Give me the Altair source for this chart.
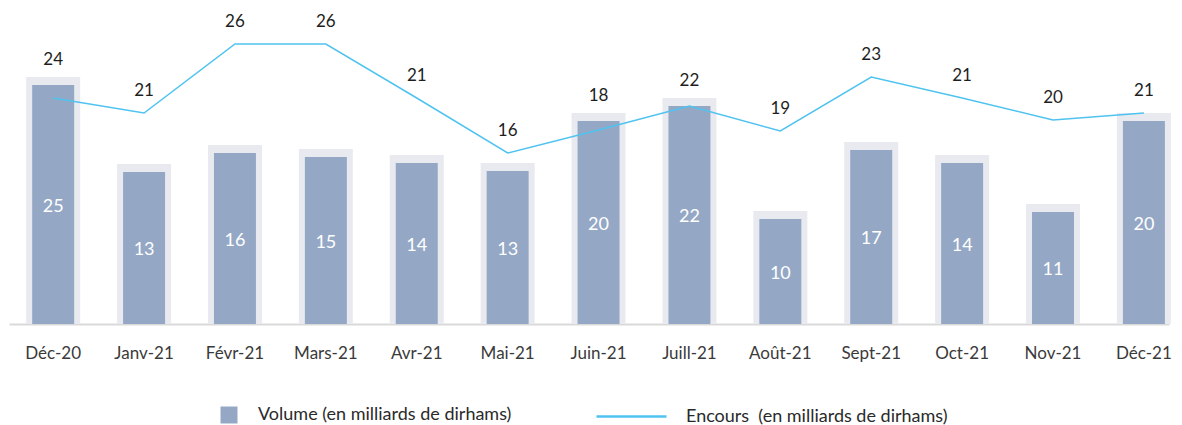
import altair as alt
import pandas as pd

months = ["Déc-20", "Janv-21", "Févr-21", "Mars-21", "Avr-21", "Mai-21", "Juin-21",
          "Juill-21", "Août-21", "Sept-21", "Oct-21", "Nov-21", "Déc-21"]
volume = [23.9, 15.2, 17.1, 16.7, 16.1, 15.3, 20.3, 21.8, 10.5, 17.4, 16.1, 11.2, 20.3]
volume_labels = ["25", "13", "16", "15", "14", "13", "20", "22", "10", "17", "14", "11", "20"]
encours = [22.6, 21.1, 28.0, 28.0, 22.6, 17.1, 19.4, 21.8, 19.3, 24.7, 22.6, 20.4, 21.1]
encours_labels = ["24", "21", "26", "26", "21", "16", "18", "22", "19", "23", "21", "20", "21"]

VOL_NAME = "Volume (en milliards de dirhams)"
ENC_NAME = "Encours\u00a0 (en milliards de dirhams)"

df = pd.DataFrame({
    "month": months,
    "volume": volume,
    "volume_label": volume_labels,
    "encours": encours,
    "encours_label": encours_labels,
})

FONT = "Lato"
yscale = alt.Scale(domain=[0, 30], nice=False, zero=True)

base = alt.Chart(df).transform_calculate(
    shadow_top="datum.volume + 0.8",
    vol_mid="datum.volume / 2",
    label_y="max(datum.encours + 2.2, datum.volume + 2.5)",
    vol_series=f"'{VOL_NAME}'",
    enc_series=f"'{ENC_NAME}'",
).encode(
    x=alt.X(
        "month:N",
        sort=months,
        scale=alt.Scale(paddingInner=0.538, paddingOuter=0.15, align=0.85),
        axis=alt.Axis(
            title=None, labelAngle=0, ticks=False, labelPadding=21,
            labelFont=FONT, labelFontSize=17, labelColor="#3A3A3A",
            domainColor="#D9D9D9", domainWidth=2,
        ),
    )
)

shadow = base.mark_bar(size=54, color="#E9EAEF").encode(
    y=alt.Y("shadow_top:Q", scale=yscale, axis=None)
)

bars = base.mark_bar(size=42).encode(
    y=alt.Y("volume:Q", scale=yscale, axis=None),
    fill=alt.Fill(
        "vol_series:N",
        scale=alt.Scale(domain=[VOL_NAME], range=["#94A8C6"]),
        legend=alt.Legend(
            title=None, orient="none", legendX=211, legendY=382,
            symbolType="square", symbolSize=289, symbolStrokeWidth=0,
            labelOffset=20, labelLimit=400, labelFont=FONT, labelFontSize=18,
            labelColor="#2A2A2A",
        ),
    ),
)

line = base.mark_line(strokeWidth=1.5).encode(
    y=alt.Y("encours:Q", scale=yscale, axis=None),
    stroke=alt.Stroke(
        "enc_series:N",
        scale=alt.Scale(domain=[ENC_NAME], range=["#4FC3F0"]),
        legend=alt.Legend(
            title=None, orient="none", legendX=586, legendY=356,
            symbolType="stroke", symbolSize=4900, symbolStrokeWidth=2.5,
            labelOffset=18, labelLimit=400, labelFont=FONT, labelFontSize=18,
            labelColor="#2A2A2A",
        ),
    ),
)

bar_text = base.mark_text(color="white", font=FONT, fontSize=18, baseline="middle", dy=2).encode(
    y=alt.Y("vol_mid:Q", scale=yscale, axis=None),
    text="volume_label:N",
)

line_text = base.mark_text(color="#1E1E1E", font=FONT, fontSize=17, baseline="middle").encode(
    y=alt.Y("label_y:Q", scale=yscale, axis=None),
    text="encours_label:N",
)

chart = alt.layer(shadow, bars, line, bar_text, line_text).properties(
    width=1160,
    height=300,
    autosize=alt.AutoSizeParams(type="none"),
    padding={"left": 1, "top": 16, "right": 5, "bottom": 101},
    background="white",
).configure_view(stroke=None)

chart.save("out.html", embed_options={"renderer": "svg", "actions": False})
